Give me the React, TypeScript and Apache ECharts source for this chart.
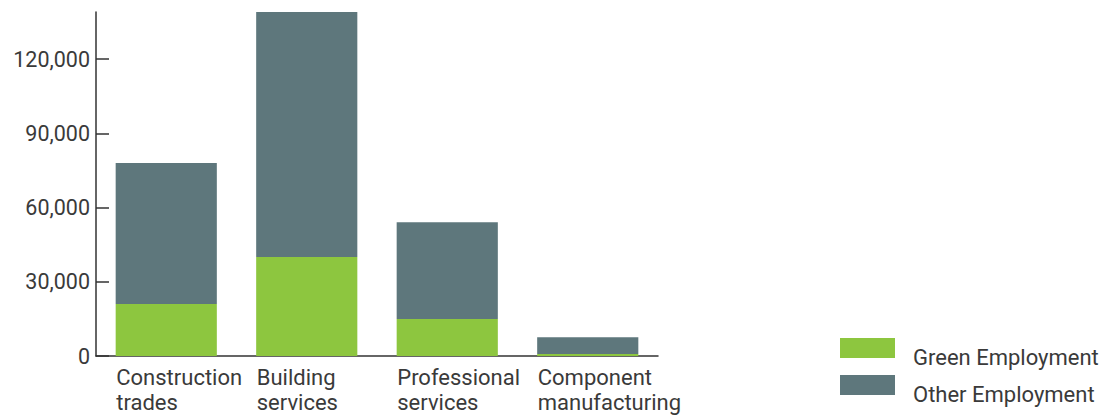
import React, { useEffect, useRef } from "react";
import * as echarts from "echarts";

const categories = ["Construction\ntrades", "Building\nservices", "Professional\nservices", "Component\nmanufacturing"];
const greenEmployment = [21000, 40000, 15000, 800];
const otherEmployment = [57000, 99000, 39000, 6800];
const yTicks = [0, 30000, 60000, 90000, 120000];

const FONT = "Roboto";
const TEXT = "#3a3a3a";

export default function App() {
  const ref = useRef<HTMLDivElement>(null);
  useEffect(() => {
    const chart = echarts.init(ref.current!, null, { renderer: "svg" });
    chart.setOption({
      animation: false,
      grid: { left: 96, right: 441, top: 12, bottom: 56 },
      legend: {
        orient: "vertical",
        left: 835,
        top: 333,
        itemWidth: 55,
        itemHeight: 20,
        itemGap: 7,
        icon: "rect",
        formatter: "{a|{name}}",
        textStyle: {
          fontFamily: FONT,
          fontSize: 22,
          color: TEXT,
          rich: { a: { fontFamily: FONT, fontSize: 22, color: TEXT, padding: [18, 0, 0, 13] } },
        },
        data: ["Green Employment", "Other Employment"],
      },
      xAxis: {
        type: "category",
        data: categories,
        axisLine: { lineStyle: { color: "#333", width: 1.5 } },
        axisTick: { inside: true, length: 9, lineStyle: { color: "#333", width: 1.5 } },
        axisLabel: {
          interval: 0,
          hideOverlap: false,
          fontFamily: FONT,
          fontSize: 22,
          color: TEXT,
          align: "left",
          lineHeight: 25,
          margin: 9,
          padding: [0, 0, 0, -50],
        },
      },
      yAxis: {
        type: "value",
        min: 0,
        max: 139000,
        interval: 30000,
        splitLine: { show: false },
        axisLine: { show: true, lineStyle: { color: "#333", width: 1.5 } },
        axisTick: { show: true, inside: true, length: 13, customValues: yTicks, lineStyle: { color: "#333", width: 1.5 } },
        axisLabel: {
          fontFamily: FONT,
          fontSize: 21.5,
          color: TEXT,
          margin: 6,
          customValues: yTicks,
          formatter: (v: number) => v.toLocaleString("en-US"),
        },
      },
      series: [
        {
          name: "Green Employment",
          type: "bar",
          stack: "total",
          data: greenEmployment,
          barCategoryGap: "28%",
          itemStyle: { color: "#8dc63f" },
        },
        {
          name: "Other Employment",
          type: "bar",
          stack: "total",
          data: otherEmployment,
          itemStyle: { color: "#5e777c" },
        },
      ],
    });
    return () => chart.dispose();
  }, []);
  return <div ref={ref} style={{ width: 1099, height: 415, position: "absolute", left: 0, top: 0 }} />;
}
